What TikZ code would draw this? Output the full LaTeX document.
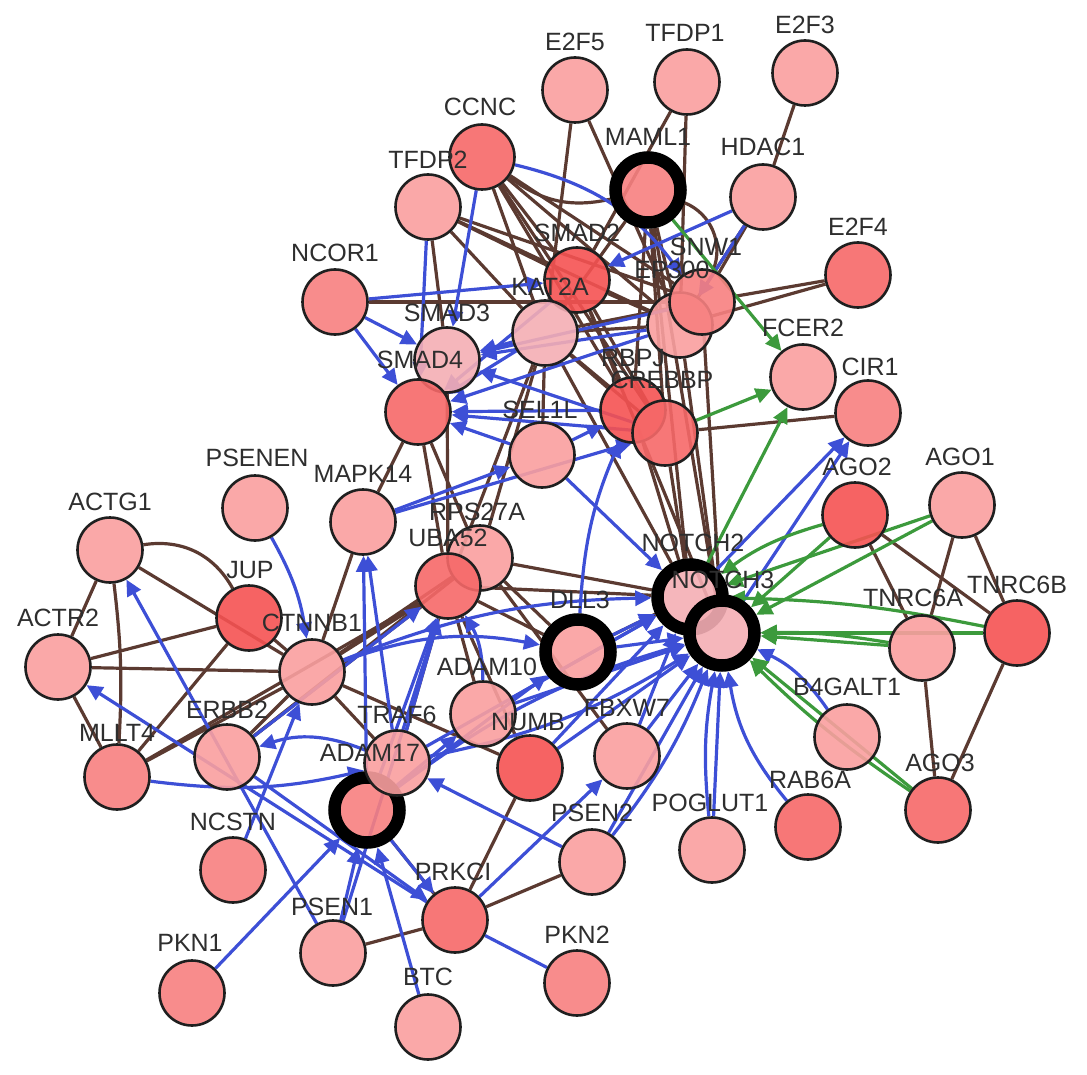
\documentclass[tikz,border=0pt]{standalone}
\usepackage{fontspec}
\setmainfont{Liberation Sans}
\usetikzlibrary{arrows.meta}
\pgfdeclarelayer{edgelayer}
\pgfsetlayers{edgelayer,main}
\definecolor{cL}{HTML}{F99F9F}
\definecolor{cM}{HTML}{F78080}
\definecolor{cD}{HTML}{F55252}
\definecolor{cMD}{HTML}{F66868}
\definecolor{cV}{HTML}{F4AEB4}
\definecolor{ebr}{HTML}{5B3A31}
\definecolor{ebl}{HTML}{3D4FD6}
\definecolor{egr}{HTML}{3C9A3C}
\definecolor{txt}{HTML}{2E2E2E}
\tikzset{
 gnode/.style={circle, minimum size=65pt, inner sep=0pt, draw=black!88, line width=2.6pt, fill opacity=0.9},
 keynode/.style={gnode, line width=12.5pt, draw=black},
 lbl/.style={inner sep=0pt, text=txt, font=\fontsize{25}{30}\selectfont},
 br/.style={draw=ebr, line width=3.2pt},
 bl/.style={draw=ebl, line width=3.2pt, -{Triangle[length=16pt,width=15pt]}},
 blp/.style={draw=ebl, line width=3.2pt},
 gr/.style={draw=egr, line width=3.2pt, -{Triangle[length=16pt,width=15pt]}},
}
\begin{document}
\begin{tikzpicture}[x=1pt,y=-1pt]
\useasboundingbox (0,0) rectangle (1087,1075);
% nodes
\node[gnode,fill=cL] (E2F5) at (575,90) {};
\node[gnode,fill=cL] (TFDP1) at (687,82) {};
\node[gnode,fill=cL] (E2F3) at (805,73) {};
\node[gnode,fill=cMD] (CCNC) at (482,157) {};
\node[keynode,fill=cM] (MAML1) at (648,190) {};
\node[gnode,fill=cL] (HDAC1) at (763,197) {};
\node[gnode,fill=cL] (TFDP2) at (428,207) {};
\node[gnode,fill=cMD] (E2F4) at (858,275) {};
\node[gnode,fill=cM] (NCOR1) at (335,302) {};
\node[gnode,fill=cD] (SMAD2) at (577,280) {};
\node[gnode,fill=cV] (KAT2A) at (545,333) {};
\node[gnode,fill=cL] (EP300) at (680,325) {};
\node[gnode,fill=cM] (SNW1) at (702,302) {};
\node[gnode,fill=cV] (SMAD3) at (447,360) {};
\node[gnode,fill=cMD] (SMAD4) at (418,412) {};
\node[gnode,fill=cD] (RBPJ) at (633,410) {};
\node[gnode,fill=cMD] (CREBBP) at (665,433) {};
\node[gnode,fill=cL] (FCER2) at (803,377) {};
\node[gnode,fill=cM] (CIR1) at (868,413) {};
\node[gnode,fill=cL] (SEL1L) at (542,455) {};
\node[gnode,fill=cL] (PSENEN) at (255,508) {};
\node[gnode,fill=cL] (MAPK14) at (363,522) {};
\node[gnode,fill=cL] (ACTG1) at (110,550) {};
\node[gnode,fill=cL] (RPS27A) at (480,558) {};
\node[gnode,fill=cMD] (UBA52) at (448,586) {};
\node[gnode,fill=cD] (AGO2) at (855,515) {};
\node[gnode,fill=cL] (AGO1) at (962,505) {};
\node[keynode,fill=cV] (NOTCH2) at (690,597) {};
\node[keynode,fill=cV] (NOTCH3) at (722,633) {};
\node[gnode,fill=cD] (JUP) at (249,618) {};
\node[gnode,fill=cL] (ACTR2) at (58,667) {};
\node[gnode,fill=cL] (CTNNB1) at (312,672) {};
\node[keynode,fill=cL] (DLL3) at (578,652) {};
\node[gnode,fill=cL] (TNRC6A) at (922,648) {};
\node[gnode,fill=cD] (TNRC6B) at (1017,633) {};
\node[gnode,fill=cL] (ADAM10) at (483,714) {};
\node[gnode,fill=cL] (ERBB2) at (227,757) {};
\node[gnode,fill=cM] (MLLT4) at (117,777) {};
\node[keynode,fill=cM] (ADAM17) at (367,810) {};
\node[gnode,fill=cL] (TRAF6) at (397,763) {};
\node[gnode,fill=cD] (NUMB) at (530,768) {};
\node[gnode,fill=cL] (FBXW7) at (627,756) {};
\node[gnode,fill=cL] (B4GALT1) at (847,737) {};
\node[gnode,fill=cMD] (AGO3) at (938,810) {};
\node[gnode,fill=cMD] (RAB6A) at (808,827) {};
\node[gnode,fill=cL] (POGLUT1) at (712,850) {};
\node[gnode,fill=cL] (PSEN2) at (592,862) {};
\node[gnode,fill=cM] (NCSTN) at (233,870) {};
\node[gnode,fill=cMD] (PRKCI) at (455,920) {};
\node[gnode,fill=cL] (PSEN1) at (333,953) {};
\node[gnode,fill=cM] (PKN1) at (192,993) {};
\node[gnode,fill=cM] (PKN2) at (577,983) {};
\node[gnode,fill=cL] (BTC) at (428,1027) {};
% edges
\begin{pgfonlayer}{edgelayer}
% brown
\draw[br] (E2F5) -- (KAT2A);
\draw[br] (E2F5) -- (EP300);
\draw[br] (TFDP1) -- (SMAD2);
\draw[br] (TFDP1) -- (EP300);
\draw[br] (E2F3) -- (HDAC1);
\draw[br] (HDAC1) -- (SNW1);
\draw[br] (HDAC1) -- (EP300);
\draw[br] (MAML1) to[bend left=45] (SNW1);
\draw[br] (CCNC) to[bend right=25] (MAML1);
\draw[br] (CCNC) -- (KAT2A);
\draw[br] (CCNC) -- (SMAD2);
\draw[br] (CCNC) -- (EP300);
\draw[br] (CCNC) -- (SNW1);
\draw[br] (CCNC) -- (CREBBP);
\draw[br] (CCNC) -- (RBPJ);
\draw[br] (TFDP2) -- (KAT2A);
\draw[br] (TFDP2) -- (SMAD2);
\draw[br] (TFDP2) -- (EP300);
\draw[br] (TFDP2) -- (SNW1);
\draw[br] (TFDP2) -- (SMAD3);
\draw[br] (E2F4) -- (SNW1);
\draw[br] (E2F4) -- (EP300);
\draw[br] (NCOR1) -- (SNW1);
\draw[br] (KAT2A) -- (EP300);
\draw[br] (KAT2A) -- (SNW1);
\draw[br] (KAT2A) -- (RBPJ);
\draw[br] (KAT2A) -- (CREBBP);
\draw[br] (KAT2A) -- (NOTCH2);
\draw[br] (SMAD2) -- (EP300);
\draw[br] (SMAD2) -- (CREBBP);
\draw[br] (SMAD2) -- (RBPJ);
\draw[br] (SMAD2) -- (NOTCH3);
\draw[br] (MAML1) -- (NOTCH2);
\draw[br] (MAML1) -- (NOTCH3);
\draw[br] (MAML1) -- (RBPJ);
\draw[br] (MAML1) -- (CREBBP);
\draw[br] (MAML1) -- (KAT2A);
\draw[br] (MAML1) -- (EP300);
\draw[br] (CREBBP) -- (NOTCH2);
\draw[br] (RBPJ) -- (NOTCH2);
\draw[br] (EP300) -- (NOTCH3);
\draw[br] (SNW1) -- (NOTCH3);
\draw[br] (CREBBP) -- (CIR1);
\draw[br] (SMAD4) -- (MAPK14);
\draw[br] (SMAD4) -- (UBA52);
\draw[br] (SMAD4) -- (RPS27A);
\draw[br] (SMAD3) -- (UBA52);
\draw[br] (KAT2A) -- (UBA52);
\draw[br] (KAT2A) -- (RPS27A);
\draw[br] (SEL1L) -- (KAT2A);
\draw[br] (RPS27A) -- (NOTCH2);
\draw[br] (UBA52) -- (NOTCH2);
\draw[br] (UBA52) -- (DLL3);
\draw[br] (RPS27A) -- (DLL3);
\draw[br] (UBA52) -- (NUMB);
\draw[br] (RPS27A) -- (FBXW7);
\draw[br] (UBA52) -- (ADAM10);
\draw[br] (UBA52) -- (CTNNB1);
\draw[br] (RPS27A) -- (CTNNB1);
\draw[br] (UBA52) -- (ERBB2);
\draw[br] (RPS27A) -- (ERBB2);
\draw[br] (UBA52) -- (MLLT4);
\draw[br] (UBA52) -- (TRAF6);
\draw[br] (MAPK14) -- (CTNNB1);
\draw[br] (CTNNB1) -- (JUP);
\draw[br] (CTNNB1) -- (ACTR2);
\draw[br] (ACTG1) -- (CTNNB1);
\draw[br] (ACTG1) to[bend left=35] (JUP);
\draw[br] (ACTG1) -- (ACTR2);
\draw[br] (ACTG1) to[bend left=5] (MLLT4);
\draw[br] (ACTR2) -- (JUP);
\draw[br] (ACTR2) -- (MLLT4);
\draw[br] (JUP) -- (MLLT4);
\draw[br] (MLLT4) -- (CTNNB1);
\draw[br] (ERBB2) -- (CTNNB1);
\draw[br] (CTNNB1) -- (TRAF6);
\draw[br] (CTNNB1) -- (NUMB);
\draw[br] (ADAM17) -- (PRKCI);
\draw[br] (PRKCI) -- (NUMB);
\draw[br] (PRKCI) -- (PSEN2);
\draw[br] (PRKCI) -- (PSEN1);
\draw[br] (DLL3) -- (NOTCH2);
\draw[br] (AGO2) -- (TNRC6A);
\draw[br] (AGO2) -- (TNRC6B);
\draw[br] (AGO1) -- (TNRC6A);
\draw[br] (AGO1) -- (TNRC6B);
\draw[br] (TNRC6A) -- (AGO3);
\draw[br] (TNRC6B) -- (AGO3);
% blue
\draw[bl] (NCOR1) -- (SMAD3);
\draw[bl] (NCOR1) -- (SMAD4);
\draw[bl] (NCOR1) -- (SMAD2);
\draw[bl] (KAT2A) -- (SMAD3);
\draw[bl] (KAT2A) -- (SMAD4);
\draw[bl] (SMAD2) -- (SMAD4);
\draw[bl] (EP300) -- (SMAD3);
\draw[bl] (EP300) -- (SMAD4);
\draw[bl] (SNW1) -- (SMAD3);
\draw[bl] (RBPJ) -- (SMAD4);
\draw[bl] (CREBBP) -- (SMAD4);
\draw[bl] (CREBBP) -- (SMAD3);
\draw[bl] (SEL1L) -- (SMAD4);
\draw[bl] (HDAC1) -- (SMAD2);
\draw[bl] (HDAC1) -- (EP300);
\draw[bl] (CCNC) -- (SMAD3);
\draw[bl] (TFDP2) -- (SMAD4);
\draw[bl] (CCNC) to[bend left=20] (SNW1);
\draw[bl] (SEL1L) -- (NOTCH2);
\draw[bl] (SEL1L) -- (RBPJ);
\draw[bl] (MAPK14) -- (CREBBP);
\draw[bl] (MAPK14) -- (SEL1L);
\draw[bl] (DLL3) -- (NOTCH2);
\draw[bl] (DLL3) -- (NOTCH3);
\draw[bl] (DLL3) to[bend left=10] (RBPJ);
\draw[bl] (ADAM10) -- (NOTCH2);
\draw[bl] (ADAM10) -- (NOTCH3);
\draw[bl] (NUMB) -- (NOTCH2);
\draw[bl] (NUMB) -- (NOTCH3);
\draw[bl] (FBXW7) -- (NOTCH3);
\draw[bl] (FBXW7) -- (NOTCH2);
\draw[bl] (PSEN2) -- (NOTCH3);
\draw[bl] (PSEN2) to[bend right=8] (NOTCH3);
\draw[bl] (POGLUT1) -- (NOTCH3);
\draw[bl] (POGLUT1) to[bend left=8] (NOTCH3);
\draw[bl] (RAB6A) to[bend left=15] (NOTCH3);
\draw[bl] (B4GALT1) to[bend right=15] (NOTCH3);
\draw[bl] (CTNNB1) to[bend left=10] (NOTCH2);
\draw[bl] (TRAF6) -- (NOTCH2);
\draw[bl] (TRAF6) to[bend right=10] (NOTCH3);
\draw[bl] (ADAM17) to[bend left=10] (NOTCH3);
\draw[bl] (ADAM17) -- (DLL3);
\draw[bl] (CTNNB1) to[bend left=15] (DLL3);
\draw[bl] (ADAM17) -- (ADAM10);
\draw[bl] (NOTCH2) -- (CIR1);
\draw[bl] (NOTCH3) -- (CIR1);
\draw[bl] (TRAF6) -- (UBA52);
\draw[bl] (ADAM17) -- (UBA52);
\draw[bl] (ADAM10) to[bend right=15] (UBA52);
\draw[bl] (ERBB2) -- (UBA52);
\draw[bl] (PSEN1) -- (UBA52);
\draw[bl] (TRAF6) -- (MAPK14);
\draw[bl] (ADAM17) -- (MAPK14);
\draw[bl] (PSENEN) to[bend left=10] (CTNNB1);
\draw[bl] (NCSTN) -- (CTNNB1);
\draw[bl] (TRAF6) to[bend right=20] (ERBB2);
\draw[bl] (MLLT4) to[bend right=10] (TRAF6);
\draw[bl] (PRKCI) -- (ACTR2);
\draw[bl] (PSEN1) -- (ACTG1);
\draw[bl] (ERBB2) -- (PRKCI);
\draw[bl] (PKN1) -- (ADAM17);
\draw[bl] (BTC) -- (ADAM17);
\draw[bl] (PSEN1) -- (ADAM17);
\draw[bl] (ADAM17) -- (PRKCI);
\draw[bl] (PRKCI) -- (FBXW7);
\draw[bl] (PSEN2) -- (TRAF6);
\draw[blp] (PKN2) -- (PRKCI);
% green
\draw[gr] (MAML1) -- (FCER2);
\draw[gr] (CREBBP) -- (FCER2);
\draw[gr] (NOTCH2) -- (FCER2);
\draw[gr] (AGO2) to[bend right=10] (NOTCH2);
\draw[gr] (AGO2) -- (NOTCH3);
\draw[gr] (AGO1) -- (NOTCH2);
\draw[gr] (AGO1) -- (NOTCH3);
\draw[gr] (TNRC6A) -- (NOTCH3);
\draw[gr] (TNRC6A) to[bend right=5] (NOTCH3);
\draw[gr] (TNRC6B) -- (NOTCH3);
\draw[gr] (TNRC6B) to[bend right=5] (NOTCH2);
\draw[gr] (AGO3) -- (NOTCH3);
\draw[gr] (AGO3) to[bend left=5] (NOTCH3);
\end{pgfonlayer}
% labels
\node[lbl] (lE2F5) at (575,42) {E2F5};
\node[lbl] (lTFDP1) at (685,33) {TFDP1};
\node[lbl] (lE2F3) at (805,25) {E2F3};
\node[lbl] (lCCNC) at (480,107) {CCNC};
\node[lbl] (lMAML1) at (648,137) {MAML1};
\node[lbl] (lHDAC1) at (763,147) {HDAC1};
\node[lbl] (lTFDP2) at (428,160) {TFDP2};
\node[lbl] (lE2F4) at (858,227) {E2F4};
\node[lbl] (lNCOR1) at (335,253) {NCOR1};
\node[lbl] (lSMAD2) at (577,233) {SMAD2};
\node[lbl] (lKAT2A) at (550,287) {KAT2A};
\node[lbl] (lSNW1) at (706,247) {SNW1};
\node[lbl] (lEP300) at (672,270) {EP300};
\node[lbl] (lSMAD3) at (447,313) {SMAD3};
\node[lbl] (lSMAD4) at (420,360) {SMAD4};
\node[lbl] (lRBPJ) at (633,358) {RBPJ};
\node[lbl] (lCREBBP) at (662,380) {CREBBP};
\node[lbl] (lFCER2) at (803,328) {FCER2};
\node[lbl] (lCIR1) at (870,367) {CIR1};
\node[lbl] (lSEL1L) at (540,410) {SEL1L};
\node[lbl] (lPSENEN) at (257,458) {PSENEN};
\node[lbl] (lMAPK14) at (363,474) {MAPK14};
\node[lbl] (lACTG1) at (110,502) {ACTG1};
\node[lbl] (lRPS27A) at (477,512) {RPS27A};
\node[lbl] (lUBA52) at (448,538) {UBA52};
\node[lbl] (lAGO2) at (857,467) {AGO2};
\node[lbl] (lAGO1) at (960,457) {AGO1};
\node[lbl] (lNOTCH2) at (693,543) {NOTCH2};
\node[lbl] (lNOTCH3) at (723,580) {NOTCH3};
\node[lbl] (lJUP) at (250,570) {JUP};
\node[lbl] (lACTR2) at (58,618) {ACTR2};
\node[lbl] (lCTNNB1) at (312,623) {CTNNB1};
\node[lbl] (lDLL3) at (580,600) {DLL3};
\node[lbl] (lTNRC6A) at (913,598) {TNRC6A};
\node[lbl] (lTNRC6B) at (1017,585) {TNRC6B};
\node[lbl] (lADAM10) at (487,667) {ADAM10};
\node[lbl] (lERBB2) at (227,710) {ERBB2};
\node[lbl] (lMLLT4) at (117,733) {MLLT4};
\node[lbl] (lTRAF6) at (397,715) {TRAF6};
\node[lbl] (lADAM17) at (370,753) {ADAM17};
\node[lbl] (lNUMB) at (528,722) {NUMB};
\node[lbl] (lFBXW7) at (627,708) {FBXW7};
\node[lbl] (lB4GALT1) at (847,687) {B4GALT1};
\node[lbl] (lAGO3) at (940,763) {AGO3};
\node[lbl] (lRAB6A) at (810,780) {RAB6A};
\node[lbl] (lPOGLUT1) at (710,803) {POGLUT1};
\node[lbl] (lPSEN2) at (592,813) {PSEN2};
\node[lbl] (lNCSTN) at (233,822) {NCSTN};
\node[lbl] (lPRKCI) at (453,872) {PRKCI};
\node[lbl] (lPSEN1) at (332,907) {PSEN1};
\node[lbl] (lPKN1) at (190,943) {PKN1};
\node[lbl] (lPKN2) at (577,935) {PKN2};
\node[lbl] (lBTC) at (428,977) {BTC};
\end{tikzpicture}
\end{document}
